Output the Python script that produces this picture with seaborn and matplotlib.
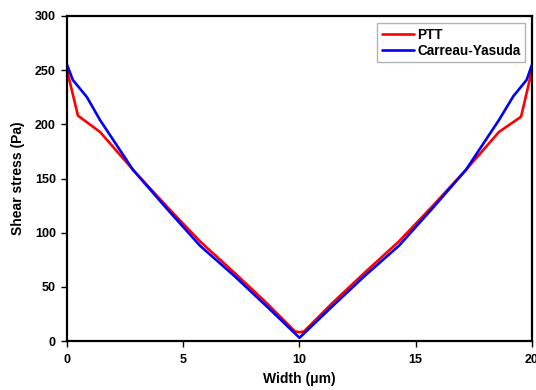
import pandas as pd
import matplotlib
matplotlib.use('Agg')
import matplotlib.pyplot as plt
import seaborn as sns

# 读取的数据点 (Width in µm, Shear stress in Pa)
ptt_width = [0, 0.47, 1.42, 2.84, 4.3, 5.72, 7.2, 8.59, 9.8, 10, 10.2, 11.41, 12.8, 14.28, 15.7, 17.16, 18.58, 19.53, 20]
ptt_stress = [250, 208, 193, 158, 124, 92, 63, 35, 9, 8, 9, 35, 63, 92, 124, 158, 193, 207, 250]

cy_width = [0, 0.25, 0.86, 1.42, 2.84, 4.3, 5.72, 7.2, 8.59, 10, 11.41, 12.8, 14.28, 15.7, 17.16, 18.58, 19.2, 19.77, 20]
cy_stress = [255, 241, 225, 204, 158, 122, 88, 60, 32, 3, 32, 60, 88, 122, 158, 204, 226, 241, 255]

df = pd.concat([
    pd.DataFrame({'Width': ptt_width, 'Stress': ptt_stress, 'Model': 'PTT'}),
    pd.DataFrame({'Width': cy_width, 'Stress': cy_stress, 'Model': 'Carreau-Yasuda'}),
])

sns.set_style('ticks')
plt.rcParams['font.family'] = ['Liberation Sans', 'DejaVu Sans']
plt.rcParams['text.color'] = 'black'
plt.rcParams['axes.labelcolor'] = 'black'
plt.rcParams['xtick.color'] = 'black'
plt.rcParams['ytick.color'] = 'black'

fig = plt.figure(figsize=(5.36, 3.9), dpi=100)
ax = fig.add_axes([0.125, 0.1256, 0.8675, 0.8334])

sns.lineplot(data=df, x='Width', y='Stress', hue='Model', sort=False,
             palette={'PTT': '#ff0000', 'Carreau-Yasuda': '#0000ff'},
             linewidth=1.9, ax=ax, estimator=None)

ax.set_xlim(0, 20)
ax.set_ylim(0, 300)
ax.set_xticks([0, 5, 10, 15, 20])
ax.set_yticks([0, 50, 100, 150, 200, 250, 300])
ax.set_xlabel('Width (μm)', fontsize=10, fontweight='bold', labelpad=5)
ax.set_ylabel('Shear stress (Pa)', fontsize=10, fontweight='bold', labelpad=7)
for lab in ax.get_xticklabels() + ax.get_yticklabels():
    lab.set_fontweight('bold')
ax.tick_params(axis='both', labelsize=9, length=4, width=1, color='black', pad=4)
ax.tick_params(axis='x', pad=5)

for sp in ax.spines.values():
    sp.set_visible(True)
    sp.set_color('black')
    sp.set_linewidth(1.6)

leg = ax.legend(loc='upper right', fontsize=9.8, frameon=True, fancybox=False,
                handlelength=2.4, borderaxespad=0.5, labelspacing=0.15,
                handletextpad=0.2, borderpad=0.35)
leg.get_frame().set_edgecolor('#a0a0a0')
leg.get_frame().set_linewidth(1.0)
for t in leg.get_texts():
    t.set_fontweight('bold')

fig.savefig('out.png', dpi=100)
